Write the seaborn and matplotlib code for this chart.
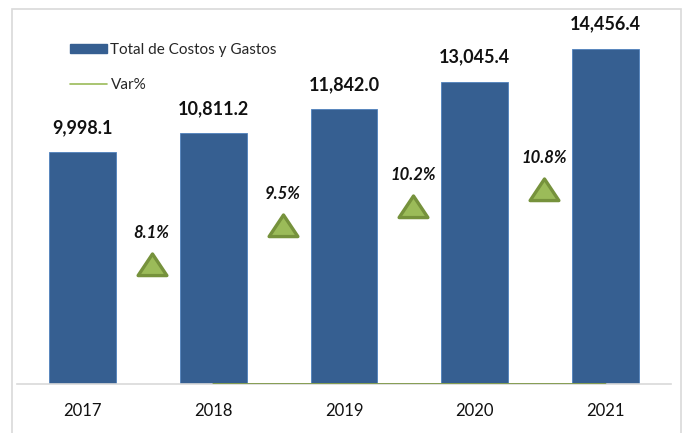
import matplotlib
matplotlib.use("Agg")
import matplotlib.pyplot as plt
import seaborn as sns
import pandas as pd
from matplotlib.patches import Rectangle, Patch
from matplotlib.lines import Line2D
from matplotlib.path import Path

years = ["2017", "2018", "2019", "2020", "2021"]
totals = [9998.1, 10811.2, 11842.0, 13045.4, 14456.4]
var_years = ["2018", "2019", "2020", "2021"]
var_pct = [8.1, 9.5, 10.2, 10.8]

sns.set_theme(style="white")
plt.rcParams["font.family"] = ["Lato", "DejaVu Sans"]

bar_color = "#365F91"
tri_fill = "#9BBB59"
tri_edge = "#76923C"

fig = plt.figure(figsize=(6.84, 4.33), dpi=100)
ax = fig.add_axes([17 / 684, 1 - 384 / 433, (671 - 17) / 684, (384 - 13) / 433])

df = pd.DataFrame({"year": years, "total": totals})
sns.barplot(data=df, x="year", y="total", color=bar_color, saturation=1,
            width=0.51, ax=ax, edgecolor="#4F81BD", linewidth=0.6)
ax.set_ylim(0, 16000)
ax.set_xlim(-0.5, 4.5)

for i, v in enumerate(totals):
    ax.text(i, v + 700, f"{v:,.1f}", ha="center", va="bottom",
            fontsize=13, fontweight="bold", color="#111111")

# Var% line (plotted on primary scale -> sits on baseline)
xpos = [years.index(y) for y in var_years]
ax.plot(xpos, [p / 100 for p in var_pct], color="#77933C", lw=1.2, zorder=5)

ax.set_xlabel("")
ax.set_ylabel("")
ax.set_yticks([])
ax.tick_params(axis="x", length=0, labelsize=12, pad=14, colors="#111111")
for s in ["top", "left", "right"]:
    ax.spines[s].set_visible(False)
ax.spines["bottom"].set_color("#D9D9D9")
ax.spines["bottom"].set_linewidth(1.2)

# Triangles on secondary axis (wide triangle marker)
tri = Path([(-1.0, -0.7), (1.0, -0.7), (0.0, 0.8), (-1.0, -0.7)],
           [Path.MOVETO, Path.LINETO, Path.LINETO, Path.CLOSEPOLY])
ax2 = ax.twinx()
ax2.set_ylim(3.76, 17.25)
ax2.set_yticks([])
for s in ax2.spines.values():
    s.set_visible(False)
tx = [x - 0.47 for x in xpos]
ax2.scatter(tx, var_pct, marker=tri, s=430, color=tri_fill,
            edgecolor=tri_edge, linewidth=2.4, zorder=6)
for x, p in zip(tx, var_pct):
    ax2.annotate(f"{p:.1f}%", (x, p), xytext=(0, 23), textcoords="offset points",
                 ha="center", va="center", fontsize=12,
                 fontweight="bold", fontstyle="italic", color="#111111")

# Legend
handles = [Patch(facecolor=bar_color, edgecolor=bar_color),
           Line2D([0], [0], color="#9BBB59", lw=1.2)]
leg = fig.legend(handles, ["Total de Costos y Gastos", "Var%"],
                 loc="upper left", bbox_to_anchor=(70 / 684, 1 - 43 / 433),
                 frameon=False, fontsize=11, handlelength=2.4, borderpad=0,
                 borderaxespad=0,
                 handleheight=0.6, handletextpad=0.25, labelspacing=1.35)

# Outer border
fig.patches.append(Rectangle((12 / 684, -0.01), (681 - 12) / 684, 1 - 9 / 433 + 0.01,
                             transform=fig.transFigure, fill=False,
                             edgecolor="#D9D9D9", lw=1.2))

fig.savefig("out.png", dpi=100)
